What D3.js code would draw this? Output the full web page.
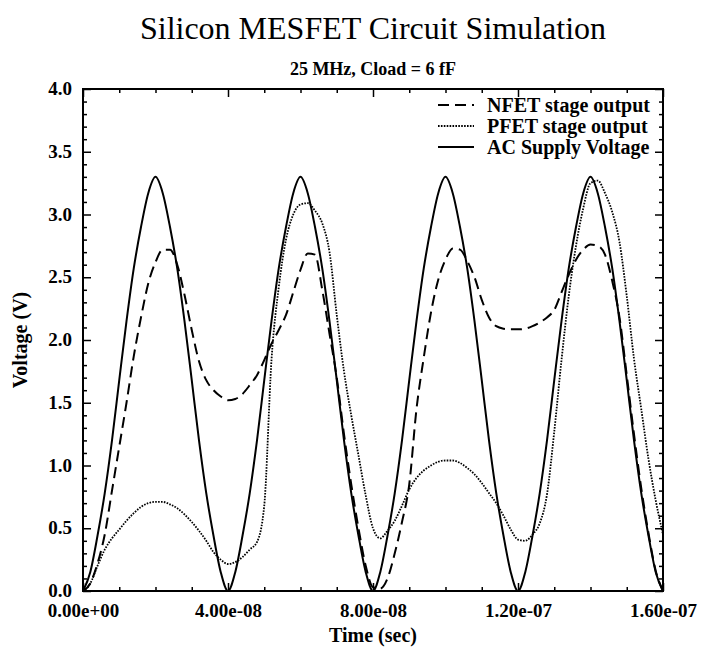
<!DOCTYPE html>
<html>
<head>
<meta charset="utf-8">
<script src="https://cdn.jsdelivr.net/npm/d3@7"></script>
<style>
  html, body { margin: 0; padding: 0; background: #fff; }
  svg { display: block; }
  text { font-family: "Liberation Serif", "Times New Roman", serif; fill: #000; }
</style>
</head>
<body>
<div id="chart"></div>
<script>
// ---- Data (time in ns, voltages in V) ----
const timeNs = [0,2,4,6,8,10,12,14,16,18,20,22,24,26,28,30,32,34,36,38,
  40,42,44,46,48,50,52,54,56,58,60,62,64,66,68,70,72,74,76,78,
  80,82,84,86,88,90,92,94,96,98,100,102,104,106,108,110,112,114,116,118,
  120,122,124,126,128,130,132,134,136,138,140,142,144,146,148,150,152,154,156,158,160];

const acSupply = [0,0.15,0.44,0.78,1.2,1.68,2.15,2.57,2.9,3.17,3.3,3.17,2.9,2.57,2.15,1.68,1.2,0.78,0.44,0.15,
  0,0.15,0.44,0.78,1.2,1.68,2.15,2.57,2.9,3.17,3.3,3.17,2.9,2.57,2.15,1.68,1.2,0.78,0.44,0.15,
  0,0.15,0.44,0.78,1.2,1.68,2.15,2.57,2.9,3.17,3.3,3.17,2.9,2.57,2.15,1.68,1.2,0.78,0.44,0.15,
  0,0.15,0.44,0.78,1.2,1.68,2.15,2.57,2.9,3.17,3.3,3.17,2.9,2.57,2.15,1.68,1.2,0.78,0.44,0.15,0];

const nfetOut = [0,0.06,0.22,0.45,0.8,1.15,1.5,1.87,2.18,2.45,2.62,2.72,2.72,2.6,2.36,2.08,1.83,1.68,1.6,1.55,
  1.52,1.53,1.57,1.64,1.72,1.84,1.97,2.08,2.2,2.38,2.56,2.69,2.68,2.4,2.05,1.7,1.25,0.85,0.5,0.2,
  0.03,0.02,0.1,0.3,0.55,0.85,1.45,1.86,2.22,2.48,2.64,2.73,2.72,2.63,2.5,2.32,2.18,2.11,2.09,2.085,
  2.085,2.09,2.11,2.14,2.18,2.24,2.38,2.52,2.64,2.72,2.76,2.75,2.68,2.47,2.18,1.72,1.25,0.82,0.46,0.16,0];

const pfetOut = [0,0.06,0.2,0.33,0.42,0.49,0.56,0.62,0.67,0.7,0.71,0.71,0.69,0.66,0.61,0.55,0.48,0.4,0.31,0.25,
  0.215,0.23,0.27,0.33,0.39,0.68,1.84,2.42,2.8,3.0,3.08,3.09,3.03,2.93,2.7,2.2,1.75,1.4,1.08,0.76,
  0.5,0.42,0.48,0.56,0.68,0.81,0.9,0.96,1.0,1.03,1.04,1.04,1.02,0.98,0.93,0.86,0.78,0.7,0.6,0.49,
  0.41,0.4,0.45,0.54,0.77,1.27,1.84,2.35,2.75,3.05,3.25,3.27,3.17,3.02,2.78,2.35,1.85,1.45,1.05,0.72,0.45];

const xMajorTicks = [0,40,80,120,160];
const xTickLabels = ["0.00e+00","4.00e-08","8.00e-08","1.20e-07","1.60e-07"];
const xMinorTicks = [10,20,30,50,60,70,90,100,110,130,140,150];
const yMajorTicks = [0,0.5,1,1.5,2,2.5,3,3.5,4];
const yTickLabels = ["0.0","0.5","1.0","1.5","2.0","2.5","3.0","3.5","4.0"];
const yMinorTicks = [0.1,0.2,0.3,0.4,0.6,0.7,0.8,0.9,1.1,1.2,1.3,1.4,1.6,1.7,1.8,1.9,
  2.1,2.2,2.3,2.4,2.6,2.7,2.8,2.9,3.1,3.2,3.3,3.4,3.6,3.7,3.8,3.9];

const seriesNames = ["NFET stage output","PFET stage output","AC Supply Voltage"];

// ---- Layout ----
const W = 704, H = 652;
const L = 83, R = 663, T = 89, B = 591;

const svg = d3.select("#chart").append("svg").attr("width", W).attr("height", H);

const x = d3.scaleLinear().domain([0,160]).range([L,R]);
const y = d3.scaleLinear().domain([0,4]).range([B,T]);

const styles = [
  {data: nfetOut, dash: "11,6", width: 2},
  {data: pfetOut, dash: "1.6,1.3", width: 1.8},
  {data: acSupply, dash: null, width: 2}
];

svg.append("defs").append("clipPath").attr("id","clip")
  .append("rect").attr("x",L).attr("y",T).attr("width",R-L).attr("height",B-T);

const line = d3.line().curve(d3.curveMonotoneX);

const plot = svg.append("g").attr("clip-path","url(#clip)");
styles.forEach(s => {
  plot.append("path")
    .attr("d", line(timeNs.map((t,i)=>[x(t), y(s.data[i])])))
    .attr("fill","none").attr("stroke","#000")
    .attr("stroke-width", s.width)
    .attr("stroke-dasharray", s.dash)
    .attr("stroke-linejoin","round");
});

// ---- Axes ----
function styleAxis(g){
  g.select(".domain").remove();
  g.selectAll(".tick line").attr("stroke","#000").attr("stroke-width",1.5);
  g.selectAll("text").attr("font-size","19px").attr("font-weight","bold")
    .attr("font-family","Liberation Serif, Times New Roman, serif").attr("fill","#000");
}

svg.append("g").attr("transform",`translate(0,${B})`)
  .call(d3.axisBottom(x).tickValues(xMajorTicks).tickSize(-8).tickPadding(13)
    .tickFormat((d,i)=>xTickLabels[i]))
  .call(styleAxis);
svg.append("g").attr("transform",`translate(0,${B})`)
  .call(d3.axisBottom(x).tickValues(xMinorTicks).tickSize(-4).tickFormat(""))
  .call(styleAxis);
svg.append("g").attr("transform",`translate(0,${T})`)
  .call(d3.axisTop(x).tickValues(xMajorTicks).tickSize(-8).tickFormat(""))
  .call(styleAxis);
svg.append("g").attr("transform",`translate(0,${T})`)
  .call(d3.axisTop(x).tickValues(xMinorTicks).tickSize(-4).tickFormat(""))
  .call(styleAxis);

const leftAxis = svg.append("g").attr("transform",`translate(${L},0)`)
  .call(d3.axisLeft(y).tickValues(yMajorTicks).tickSize(-8).tickPadding(11)
    .tickFormat((d,i)=>yTickLabels[i]))
  .call(styleAxis);
leftAxis.selectAll("text").attr("dy","0.3em");
svg.append("g").attr("transform",`translate(${L},0)`)
  .call(d3.axisLeft(y).tickValues(yMinorTicks).tickSize(-4).tickFormat(""))
  .call(styleAxis);
svg.append("g").attr("transform",`translate(${R},0)`)
  .call(d3.axisRight(y).tickValues(yMajorTicks).tickSize(-8).tickFormat(""))
  .call(styleAxis);
svg.append("g").attr("transform",`translate(${R},0)`)
  .call(d3.axisRight(y).tickValues(yMinorTicks).tickSize(-4).tickFormat(""))
  .call(styleAxis);

svg.append("rect").attr("x",L).attr("y",T).attr("width",R-L).attr("height",B-T)
  .attr("fill","none").attr("stroke","#000").attr("stroke-width",2);

// ---- Titles ----
svg.append("text").attr("x",373).attr("y",39).attr("text-anchor","middle")
  .attr("font-size","32px").text("Silicon MESFET Circuit Simulation");
svg.append("text").attr("x",373).attr("y",75).attr("text-anchor","middle")
  .attr("font-size","18px").attr("font-weight","bold").text("25 MHz, Cload = 6 fF");
svg.append("text").attr("x",373).attr("y",642).attr("text-anchor","middle")
  .attr("font-size","20px").attr("font-weight","bold").text("Time (sec)");
svg.append("text").attr("transform",`translate(27,${(T+B)/2}) rotate(-90)`)
  .attr("text-anchor","middle")
  .attr("font-size","20px").attr("font-weight","bold").text("Voltage (V)");

// ---- Legend ----
const legendY = [105, 126, 147];
styles.forEach((s,i) => {
  svg.append("line").attr("x1",438).attr("x2",474)
    .attr("y1",legendY[i]).attr("y2",legendY[i])
    .attr("stroke","#000").attr("stroke-width",s.width)
    .attr("stroke-dasharray", s.dash);
  svg.append("text").attr("x",487).attr("y",legendY[i]).attr("dy","0.35em")
    .attr("font-size","20px").attr("font-weight","bold").text(seriesNames[i]);
});
</script>
</body>
</html>
